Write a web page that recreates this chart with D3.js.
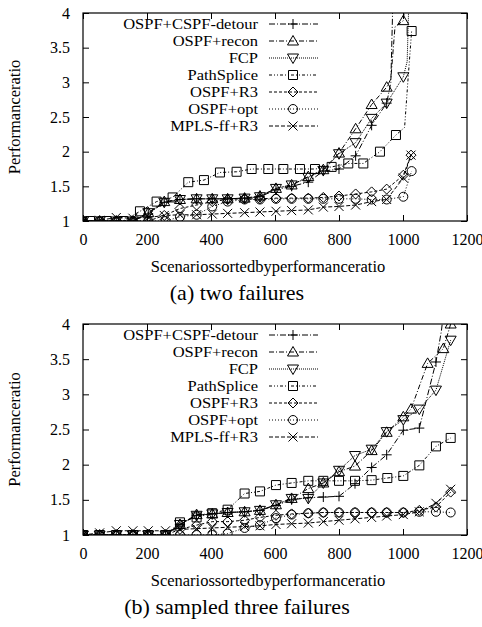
<!DOCTYPE html>
<html>
<head>
<meta charset="utf-8">
<script src="https://cdn.jsdelivr.net/npm/d3@7"></script>
<style>
body { margin: 0; background: #fff; }
svg text { font-family: "Liberation Serif", Tinos, "Times New Roman", Times, "DejaVu Serif", serif !important; fill: #000; }
</style>
</head>
<body>
<script>
// legend order, gnuplot-ish markers and dashes
var names = ["OSPF+CSPF-detour", "OSPF+recon", "FCP", "PathSplice", "OSPF+R3", "OSPF+opt", "MPLS-ff+R3"];
var shapes = ["plus", "tri", "tridown", "square", "diamond", "circle", "cross"];
var dashes = ["6,2,1,2", "5,2,1,2", "1,1", "3,2,1,2,1,2", "3,2", "1,2", "4,2"];

var xTicks = [0, 200, 400, 600, 800, 1000, 1200];
var yTicks = [1, 1.5, 2, 2.5, 3, 3.5, 4];

// (a) two failures  -- [x, y] or [x, y, 0] for points with no marker
var twoDetour = [[0,1],[52,1],[104,1],[156,1],[204,1.1],[254,1.27],[303,1.31],[355,1.32],[404,1.32],[452,1.32],[505,1.33],[553,1.35],[603,1.45],[652,1.5],[704,1.56],[751,1.72],[800,1.75],[852,1.94],[902,2.38],[949,2.7],[962,3.0,0],[969,4.3,0]];
var twoRecon = [[0,1],[52,1],[104,1],[156,1],[204,1.12],[254,1.28],[303,1.31],[355,1.32],[404,1.32],[452,1.32],[505,1.33],[553,1.36],[603,1.47],[652,1.52],[704,1.64],[751,1.74],[800,1.98],[852,2.33],[902,2.68],[949,2.93],[962,3.05,0],[975,3.8,0],[1001,3.89],[1010,4.3,0]];
var twoFcp = [[0,1],[52,1],[104,1],[156,1],[204,1.12],[254,1.27],[303,1.31],[355,1.32],[404,1.32],[452,1.32],[505,1.33],[553,1.35],[603,1.47],[652,1.52],[704,1.63],[751,1.73],[800,1.97],[852,2.13],[902,2.48],[949,2.7],[1001,3.08],[1013,3.3,0],[1019,4.3,0]];
var twoSplice = [[0,1,0],[22,1],[74,1],[126,1],[178,1.14],[230,1.28],[280,1.34],[329,1.56],[378,1.59],[428,1.7],[480,1.71],[527,1.75],[579,1.75],[626,1.75],[678,1.75],[725,1.75],[777,1.78],[829,1.83],[876,1.83],[928,2.0],[978,2.24],[1005,2.35,0],[1015,3.0,0],[1027,3.74]];
var twoR3 = [[0,1],[52,1],[104,1],[156,1],[204,1.0],[254,1.08],[303,1.18],[355,1.23],[404,1.28],[452,1.31],[505,1.32],[553,1.32],[603,1.33],[652,1.33],[704,1.33],[751,1.34],[800,1.36],[852,1.39],[902,1.42],[949,1.46],[1001,1.66],[1025,1.95]];
var twoOpt = [[0,1],[52,1],[104,1],[156,1],[204,1],[258,1],[303,1.06],[355,1.09],[404,1.21],[452,1.28],[505,1.31],[553,1.31],[603,1.32],[652,1.32],[704,1.32],[751,1.32],[800,1.32],[852,1.32],[902,1.31],[949,1.31],[1001,1.35],[1027,1.72]];
var twoMpls = [[0,1],[52,1.01],[104,1.05],[156,1.04],[204,1.05],[254,1.08],[303,1.09],[355,1.09],[404,1.1],[452,1.11],[505,1.12],[553,1.13],[603,1.14],[652,1.15],[704,1.16],[751,1.2],[800,1.21],[852,1.23],[902,1.28],[949,1.31],[1001,1.62],[1025,1.95]];

// (b) sampled three failures
var threeDetour = [[0,1],[52,1],[104,1],[156,1],[204,1],[258,1],[303,1.15],[355,1.28],[404,1.3],[452,1.32],[505,1.33],[553,1.35],[603,1.42],[652,1.5],[704,1.53],[751,1.54],[800,1.55],[850,1.73],[902,1.96],[949,2.14],[1001,2.49],[1051,2.52],[1103,3.46],[1120,3.9,0],[1130,4.3,0]];
var threeRecon = [[0,1],[52,1],[104,1],[156,1],[204,1],[258,1],[303,1.15],[355,1.29],[404,1.3],[452,1.32],[505,1.33],[553,1.35],[603,1.43],[652,1.52],[704,1.66],[751,1.74],[800,1.9],[850,1.98],[902,2.2],[949,2.46],[1001,2.68],[1025,2.79],[1077,3.44],[1126,3.65],[1149,4.0]];
var threeFcp = [[0,1],[52,1],[104,1],[156,1],[204,1],[258,1],[303,1.15],[355,1.28],[404,1.3],[452,1.32],[505,1.33],[553,1.35],[603,1.43],[652,1.52],[704,1.52],[751,1.74],[800,1.92],[850,2.13],[902,2.22],[949,2.47],[1001,2.64],[1051,2.79],[1103,3.06],[1149,3.77]];
var threeSplice = [[0,1],[52,1],[104,1],[156,1],[204,1],[258,1],[303,1.18],[355,1.25],[404,1.31],[452,1.36],[505,1.59],[553,1.62],[603,1.71],[652,1.74],[704,1.77],[751,1.77],[800,1.77],[850,1.77],[902,1.78],[951,1.81],[1001,1.84],[1051,1.99],[1103,2.26],[1149,2.38]];
var threeR3 = [[0,1],[52,1],[104,1],[156,1],[204,1],[258,1],[303,1.08],[355,1.14],[404,1.19],[452,1.19],[505,1.21],[553,1.25],[603,1.28],[652,1.3],[704,1.31],[751,1.32],[800,1.32],[850,1.32],[902,1.32],[949,1.32],[1001,1.32],[1051,1.35],[1103,1.4],[1149,1.61]];
var threeOpt = [[0,1],[52,1],[104,1],[156,1],[204,1],[258,1],[303,1],[355,1],[404,1],[452,1.02],[505,1.1],[553,1.14],[603,1.24],[652,1.29],[704,1.31],[751,1.32],[800,1.32],[850,1.32],[902,1.32],[949,1.32],[1001,1.32],[1051,1.33],[1103,1.33],[1149,1.32]];
var threeMpls = [[0,1],[52,1.03],[104,1.06],[156,1.06],[204,1.06],[258,1.06],[303,1.08],[355,1.09],[404,1.1],[452,1.11],[505,1.12],[553,1.13],[603,1.15],[652,1.16],[704,1.17],[751,1.19],[800,1.21],[850,1.23],[902,1.25],[949,1.27],[1001,1.29],[1051,1.33],[1103,1.45],[1149,1.65]];

var W = 482, H = 627;
var svg = d3.select("body").append("svg").attr("width", W).attr("height", H);

function symbolPath(type, cx, cy) {
  var p = d3.path();
  if (type == "plus") { p.moveTo(cx-5, cy); p.lineTo(cx+5, cy); p.moveTo(cx, cy-5); p.lineTo(cx, cy+5); }
  else if (type == "cross") { p.moveTo(cx-4.5, cy-4.5); p.lineTo(cx+4.5, cy+4.5); p.moveTo(cx-4.5, cy+4.5); p.lineTo(cx+4.5, cy-4.5); }
  else if (type == "tri") { p.moveTo(cx, cy-5.5); p.lineTo(cx+5.5, cy+4); p.lineTo(cx-5.5, cy+4); p.closePath(); }
  else if (type == "tridown") { p.moveTo(cx, cy+5.5); p.lineTo(cx+5.5, cy-4); p.lineTo(cx-5.5, cy-4); p.closePath(); }
  else if (type == "square") { p.rect(cx-4.5, cy-4.5, 9, 9); }
  else if (type == "diamond") { p.moveTo(cx, cy-5); p.lineTo(cx+5, cy); p.lineTo(cx, cy+5); p.lineTo(cx-5, cy); p.closePath(); }
  else if (type == "circle") { p.arc(cx, cy, 4.5, 0, 2*Math.PI); }
  return p.toString();
}

function panel(id, top, bottom, series, caption) {
  var x = d3.scaleLinear().domain([0, 1200]).range([83, 467]);
  var y = d3.scaleLinear().domain([1, 4]).range([bottom, top]);
  var g = svg.append("g");

  g.append("clipPath").attr("id", "clip" + id)
    .append("rect").attr("x", 83).attr("y", top).attr("width", 384).attr("height", bottom - top);

  // axes, ticks inward like gnuplot
  g.append("g").attr("transform", "translate(0," + bottom + ")")
    .call(d3.axisBottom(x).tickValues(xTicks).tickSize(-6).tickPadding(13).tickFormat(d3.format("d")));
  g.append("g").attr("transform", "translate(0," + top + ")")
    .call(d3.axisTop(x).tickValues(xTicks).tickSize(-6).tickFormat(""));
  g.append("g").attr("transform", "translate(83,0)")
    .call(d3.axisLeft(y).tickValues(yTicks).tickSize(-6).tickPadding(13).tickFormat(function(d){ return d; }));
  g.append("g").attr("transform", "translate(467,0)")
    .call(d3.axisRight(y).tickValues(yTicks).tickSize(-6).tickFormat(""));
  g.selectAll(".domain").remove();
  g.selectAll("g").attr("font-family", null);
  g.selectAll(".tick line").attr("stroke", "#000");
  g.selectAll(".tick text").attr("font-size", 16);

  g.append("rect").attr("x", 83).attr("y", top).attr("width", 384).attr("height", bottom - top)
    .attr("fill", "none").attr("stroke", "#000").attr("stroke-width", 1.2);

  var line = d3.line().x(function(d){ return x(d[0]); }).y(function(d){ return y(d[1]); });
  var plot = g.append("g").attr("clip-path", "url(#clip" + id + ")");

  // legend: text right aligned, sample line then marker
  // rows are tight (17px) so the font is a bit smaller and stretched back to the original width
  series.forEach(function(s, i) {
    var ly = top + 11 + i * 17;
    var t = g.append("text").attr("x", 258).attr("y", ly).attr("dy", "0.33em").attr("text-anchor", "end")
      .attr("font-size", 15.2).text(names[i]);
    var w = t.node().getComputedTextLength();
    t.attr("textLength", w * 16.5 / 15.2).attr("lengthAdjust", "spacingAndGlyphs");
    g.append("line").attr("x1", 269).attr("x2", 318).attr("y1", ly).attr("y2", ly)
      .attr("stroke", "#000").attr("stroke-dasharray", dashes[i]);
    g.append("path").attr("d", symbolPath(shapes[i], 293, ly)).attr("fill", "none").attr("stroke", "#000");
  });

  series.forEach(function(s, i) {
    plot.append("path").datum(s).attr("d", line).attr("fill", "none")
      .attr("stroke", "#000").attr("stroke-width", 1).attr("stroke-dasharray", dashes[i]);
    plot.selectAll(null).data(s.filter(function(d){ return d[2] !== 0; })).enter()
      .append("path").attr("d", function(d){ return symbolPath(shapes[i], x(d[0]), y(d[1])); })
      .attr("fill", "none").attr("stroke", "#000").attr("stroke-width", 1);
  });

  g.append("text").attr("transform", "translate(20," + ((top + bottom) / 2) + ") rotate(-90)")
    .attr("text-anchor", "middle").attr("font-size", 16.5).text("Performanceratio");
  g.append("text").attr("x", 268).attr("y", bottom + 51).attr("text-anchor", "middle")
    .attr("font-size", 16.5).text("Scenariossortedbyperformanceratio");
  g.append("text").attr("x", 237).attr("y", bottom + 79).attr("text-anchor", "middle")
    .attr("font-size", 22).text(caption);
}

panel("a", 13, 221, [twoDetour, twoRecon, twoFcp, twoSplice, twoR3, twoOpt, twoMpls], "(a) two failures");
panel("b", 324, 535, [threeDetour, threeRecon, threeFcp, threeSplice, threeR3, threeOpt, threeMpls], "(b) sampled three failures");
</script>
</body>
</html>
